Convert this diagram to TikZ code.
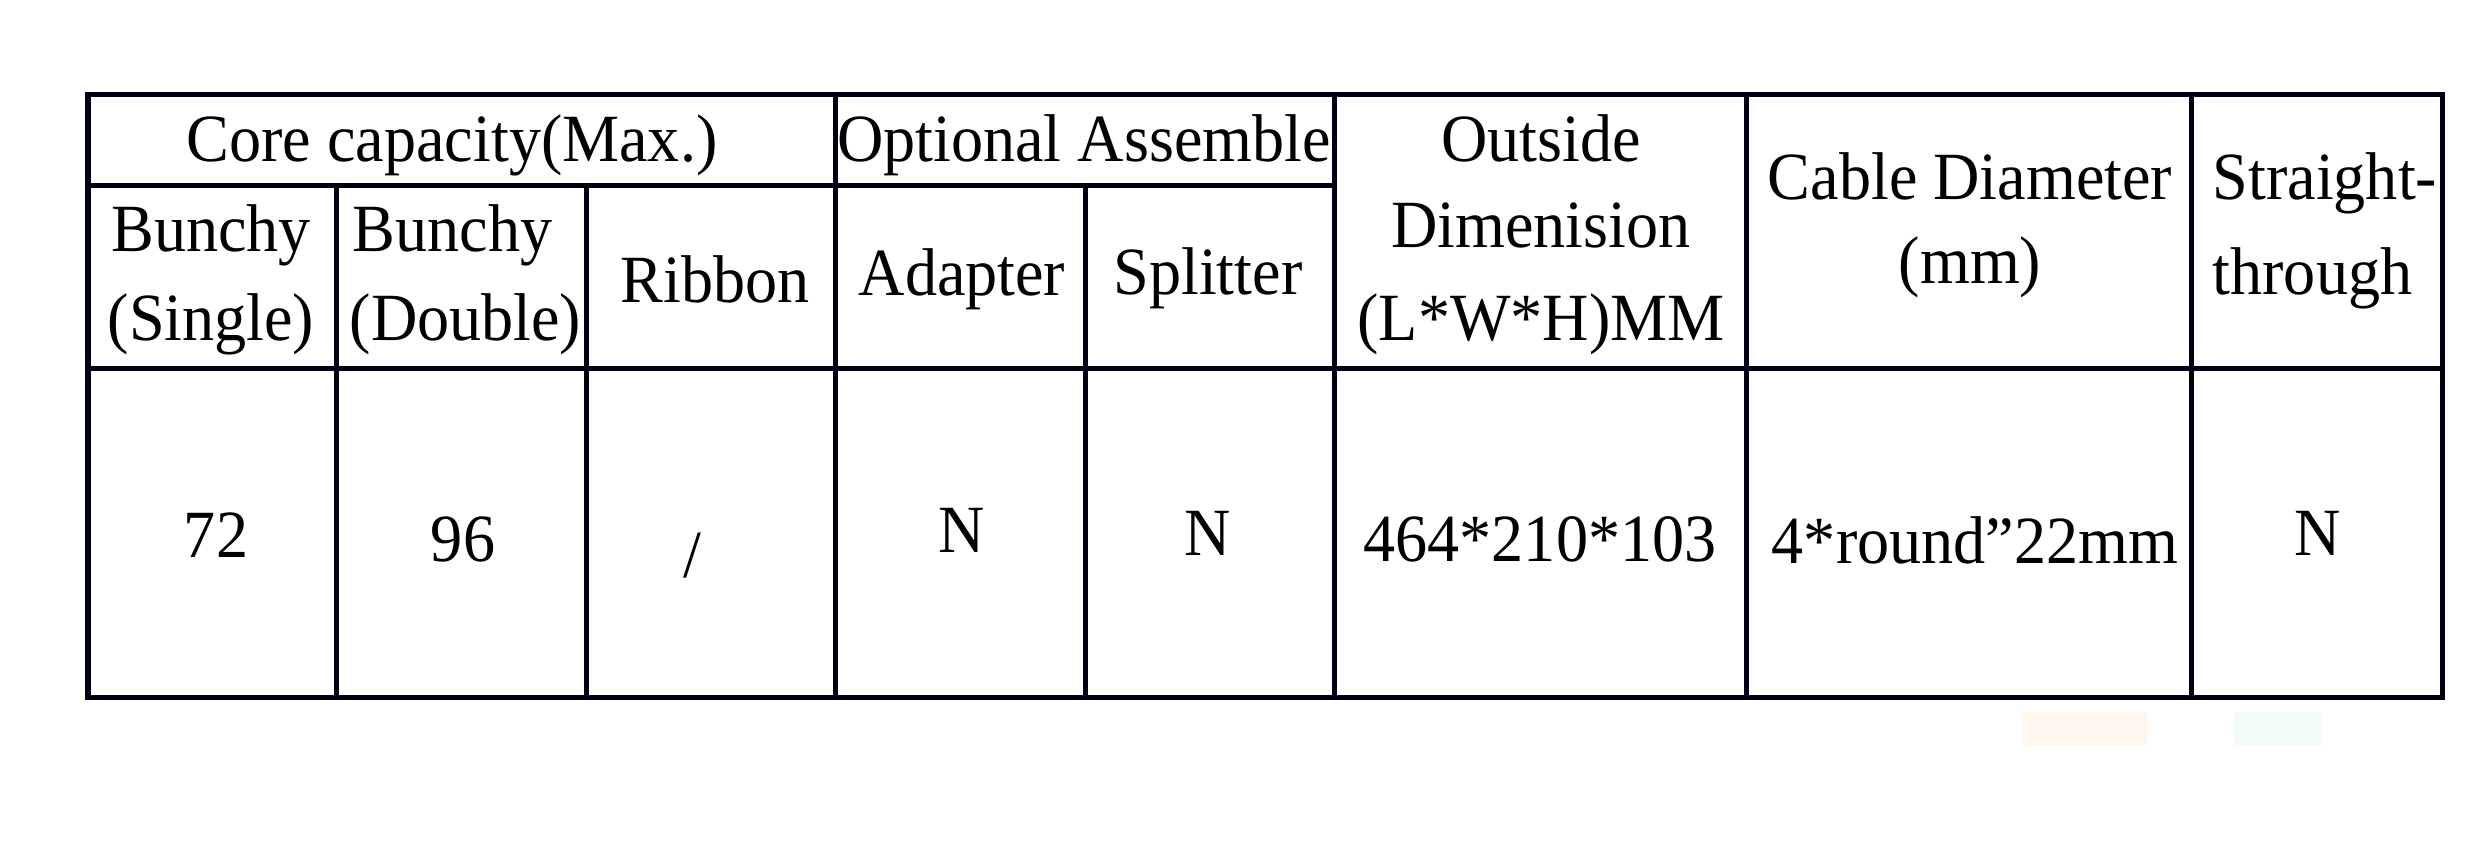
\documentclass[tikz,border=0pt]{standalone}
\usepackage{fontspec}
\setmainfont{Liberation Serif}[FakeStretch=0.95]
\begin{document}
\begin{tikzpicture}[x=0.01cm,y=-0.01cm,
  gridline/.style={line width=0.05cm,color=black!92!blue,line cap=rect},
  txt/.style={inner sep=0pt,anchor=base,font=\fontsize{19.2pt}{25pt}\selectfont},
  txtl/.style={txt,anchor=base west}]
\useasboundingbox (0,0) rectangle (2480,853);
\fill[white] (0,0) rectangle (2480,853);
% faint smudges below the table
\fill[color={rgb,255:red,255;green,246;blue,238}] (2023,712) rectangle (2147,745);
\fill[color={rgb,255:red,242;green,251;blue,246}] (2233,712) rectangle (2322,745);
% grid
\draw[gridline] (88,94) rectangle (2442,697);
\draw[gridline] (88,185) -- (1334,185);
\draw[gridline] (88,368) -- (2442,368);
\draw[gridline] (336,185) -- (336,697);
\draw[gridline] (586,185) -- (586,697);
\draw[gridline] (835,94) -- (835,697);
\draw[gridline] (1085,185) -- (1085,697);
\draw[gridline] (1334,94) -- (1334,697);
\draw[gridline] (1746,94) -- (1746,697);
\draw[gridline] (2191,94) -- (2191,697);
% header row 1
\node[txt] (core) at (452,161) {Core capacity(Max.)};
\node[txt] (opt) at (1084,161) {Optional Assemble};
\node[txt] (od1) at (1541,161) {Outside};
\node[txt] (od2) at (1541,247) {Dimenision};
\node[txt] (od3) at (1541,340) {(L*W*H)MM};
\node[txt] (cd1) at (1970,199) {Cable Diameter};
\node[txt] (cd2) at (1970,283) {(mm)};
\node[txtl] (st1) at (2212,199) {Straight-};
\node[txtl] (st2) at (2212,294) {through};
% header row 2
\node[txt] (bs1) at (211,251) {Bunchy};
\node[txt] (bs2) at (211,340) {(Single)};
\node[txtl] (bd1) at (352,251) {Bunchy};
\node[txtl] (bd2) at (349,340) {(Double)};
\node[txt] (rib) at (715,302) {Ribbon};
\node[txt] (ada) at (962,295) {Adapter};
\node[txt] (spl) at (1208,294) {Splitter};
% data row
\node[txt] (v1) at (216,557) {72};
\node[txt] (v2) at (463,561) {96};
\node[txt] (v3) at (692,577) {/};
\node[txt] (v4) at (962,552) {N};
\node[txt] (v5) at (1208,555) {N};
\node[txt] (v6) at (1540,561) {464*210*103};
\node[txt] (v7) at (1975,563) {4*round”22mm};
\node[txt] (v8) at (2318,555) {N};
\end{tikzpicture}
\end{document}
